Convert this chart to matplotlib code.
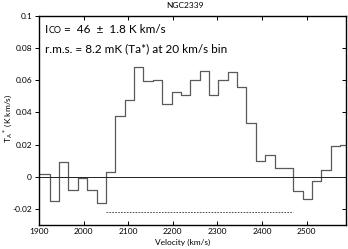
import matplotlib
matplotlib.use("Agg")
import matplotlib.pyplot as plt

plt.rcParams['font.family'] = ['Lato', 'DejaVu Sans']

# channel left edges (km/s) and antenna temperature (K km/s)
edges = [1903, 1924, 1945, 1966, 1987, 2008, 2029, 2050, 2071, 2092,
         2113, 2134, 2155, 2176, 2197, 2218, 2239, 2260, 2281, 2302,
         2323, 2344, 2365, 2386, 2407, 2428, 2449, 2470, 2491, 2512,
         2533, 2554, 2575, 2596]
temps = [0.002, -0.015, 0.009, -0.008, -0.0005, -0.0085, -0.0165, 0.003, 0.0377, 0.0475,
         0.068, 0.0595, 0.06, 0.045, 0.0527, 0.051, 0.06, 0.066, 0.051, 0.06,
         0.0652, 0.0558, 0.0336, 0.0095, 0.0136, 0.0054, 0.0052, -0.0086, -0.014, -0.0028,
         0.0043, 0.019, 0.0198]
line_range = [2050, 2470]
line_level = -0.022
xticks = [1900, 2000, 2100, 2200, 2300, 2400, 2500]
yticks = [-0.02, 0, 0.02, 0.04, 0.06, 0.08, 0.1]
ytick_labels = ['-0.02', '0', '0.02', '0.04', '0.06', '0.08', '0.1']

fig = plt.figure(figsize=(3.48, 2.49), dpi=100)
ax = fig.add_axes([39/348, 1 - 225/249, 307/348, 209/249])

ax.step(edges, temps + [temps[-1]], where='post', color='#5a5a5a', lw=0.9)
ax.axhline(0, color='#222222', lw=0.7)
ax.plot(line_range, [line_level, line_level], color='#333333', lw=0.6, ls=(0, (2, 1.5)))

ax.set_xlim(1900, 2588)
ax.set_ylim(-0.03, 0.1)
ax.set_xticks(xticks)
ax.set_yticks(yticks)
ax.set_yticklabels(ytick_labels)
ax.tick_params(axis='x', direction='in', top=True, length=3, width=0.7, labelsize=6, pad=2)
ax.tick_params(axis='y', direction='out', length=3, width=0.7, labelsize=6, pad=2)
ax.tick_params(axis='y', which='major', right=True)
for t in ax.yaxis.get_major_ticks():
    t.tick2line.set_marker(matplotlib.lines.TICKLEFT)
for s in ax.spines.values():
    s.set_linewidth(1.0)

# I_CO with small-caps "CO", then the rest of the line
t1 = ax.text(0.02, 0.919, "I", transform=ax.transAxes, fontsize=8.5, va='baseline', ha='left')
t2 = ax.annotate("CO", xy=(1, 0), xycoords=t1, fontsize=6.5, va='bottom', ha='left')
ax.annotate(" =  46  \u00b1  1.8 K km/s", xy=(1, 0), xycoords=t2, fontsize=8.5,
            va='bottom', ha='left')
ax.text(0.02, 0.825, "r.m.s. = 8.2 mK (Ta*) at 20 km/s bin", transform=ax.transAxes,
        fontsize=8.5, va='baseline', ha='left')

fig.text(185/348, 1 - 6/249, "NGC2339", fontsize=6, ha='center', va='center')
fig.text(183/348, 1 - 242/249, "Velocity (km/s)", fontsize=6, ha='center', va='center')
fig.text(8/348, 1 - 118/249, r"T$_{\rm A}$$^*$ (K km/s)", fontsize=6, ha='center',
         va='center', rotation=90)

fig.savefig("out.png", dpi=100)
